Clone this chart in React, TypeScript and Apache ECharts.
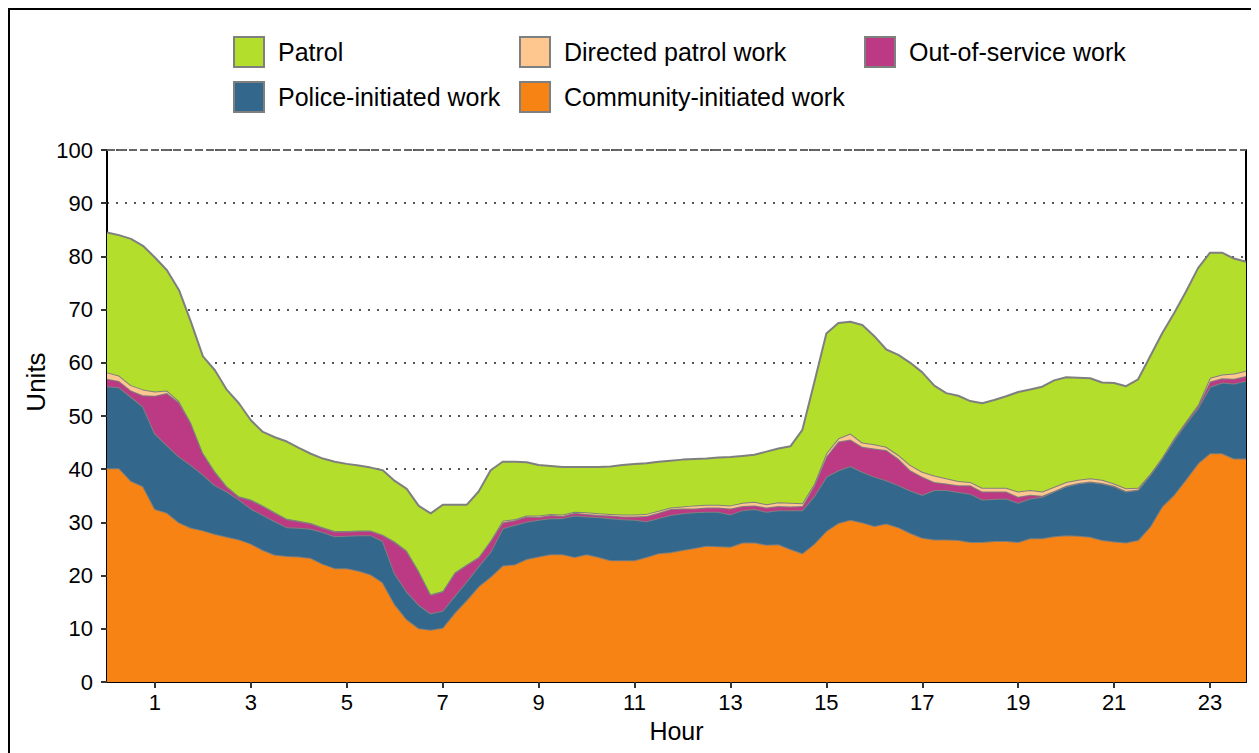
import React, { useEffect, useRef } from "react";
import * as echarts from "echarts";

// Hour of day, every 15 minutes (0 .. 23.75)
const hours: number[] = Array.from({ length: 96 }, (_, i) => i / 4);

const seriesNames = [
  "Community-initiated work",
  "Police-initiated work",
  "Out-of-service work",
  "Directed patrol work",
  "Patrol",
];

const community: number[] = [
  40.2, 40.2, 37.8, 36.8, 32.5, 31.8, 30.0, 29.0, 28.5, 27.8, 27.3, 26.8, 26.0, 24.8, 23.9, 23.7,
  23.6, 23.3, 22.2, 21.4, 21.4, 20.9, 20.2, 18.7, 14.6, 11.8, 10.1, 9.8, 10.2, 13.0, 15.4, 18.0,
  19.8, 21.9, 22.1, 23.1, 23.6, 24.0, 24.0, 23.5, 24.0, 23.5, 22.9, 22.9, 22.9, 23.5, 24.2, 24.4,
  24.8, 25.2, 25.6, 25.5, 25.4, 26.2, 26.2, 25.8, 25.9, 25.0, 24.2, 26.0, 28.4, 29.9, 30.5, 30.0,
  29.3, 29.8, 29.1, 28.0, 27.1, 26.8, 26.8, 26.7, 26.3, 26.3, 26.5, 26.5, 26.3, 27.0, 27.0, 27.4,
  27.6, 27.5, 27.3, 26.7, 26.4, 26.2, 26.7, 29.2, 33.0, 35.2, 38.1, 41.1, 43.0, 43.0, 42.0, 42.0,
];

const police: number[] = [
  15.4, 15.2, 15.8, 15.0, 14.2, 12.7, 12.4, 11.8, 10.5, 9.2, 8.5, 7.5, 6.6, 6.6, 6.3, 5.4,
  5.4, 5.5, 6.0, 6.0, 6.1, 6.7, 7.4, 7.8, 5.8, 5.2, 4.4, 3.1, 3.2, 3.2, 3.5, 3.8,
  4.7, 7.0, 7.4, 7.0, 6.9, 6.8, 6.8, 7.8, 7.1, 7.5, 7.9, 7.7, 7.6, 6.7, 6.6, 7.0,
  6.9, 6.7, 6.4, 6.5, 6.1, 6.1, 6.3, 6.2, 6.4, 7.3, 8.1, 9.0, 10.2, 9.9, 10.1, 9.5,
  9.3, 8.1, 7.9, 8.0, 8.1, 9.3, 9.3, 9.0, 9.1, 8.0, 7.9, 8.0, 7.4, 7.5, 7.8, 8.4,
  9.2, 9.8, 10.3, 10.6, 10.4, 9.6, 9.4, 9.7, 9.0, 10.3, 10.5, 10.4, 12.5, 13.3, 14.1, 14.6,
];

const outOfService: number[] = [
  1.4, 1.2, 1.2, 2.1, 7.1, 9.8, 10.2, 7.9, 4.0, 2.5, 0.9, 0.5, 1.6, 1.7, 1.6, 1.5,
  1.2, 1.0, 0.8, 0.9, 0.8, 0.8, 0.8, 1.1, 5.9, 7.6, 6.3, 3.5, 3.6, 4.3, 3.1, 1.6,
  2.0, 1.1, 0.9, 1.0, 0.5, 0.6, 0.4, 0.5, 0.5, 0.4, 0.5, 0.5, 0.6, 1.0, 1.0, 1.1,
  0.9, 0.7, 0.8, 0.8, 1.1, 0.8, 0.7, 0.8, 0.8, 0.7, 0.8, 2.0, 3.8, 5.4, 5.0, 4.7,
  5.3, 5.7, 5.0, 3.8, 3.4, 1.5, 1.2, 1.3, 1.6, 1.5, 1.4, 1.3, 1.1, 0.7, 0.2, 0.1,
  0.1, 0.1, 0.1, 0.1, 0.1, 0.1, 0.1, 0.1, 0.1, 0.2, 0.3, 0.4, 1.0, 0.8, 0.9, 0.9,
];

const directedPatrol: number[] = [
  1.2, 1.0, 1.0, 1.1, 0.8, 0.5, 0.2, 0.1, 0.1, 0.1, 0.1, 0.1, 0.1, 0.1, 0.1, 0.1,
  0.1, 0.1, 0.1, 0.1, 0.1, 0.1, 0.1, 0.1, 0.1, 0.1, 0.1, 0.1, 0.1, 0.1, 0.1, 0.1,
  0.1, 0.3, 0.2, 0.2, 0.3, 0.2, 0.3, 0.2, 0.3, 0.3, 0.3, 0.4, 0.4, 0.4, 0.4, 0.3,
  0.4, 0.6, 0.5, 0.5, 0.6, 0.6, 0.7, 0.6, 0.7, 0.7, 0.5, 0.3, 0.6, 0.6, 1.1, 0.8,
  0.8, 0.6, 0.7, 1.0, 0.9, 1.2, 1.0, 0.8, 0.6, 0.7, 0.7, 0.7, 1.0, 0.9, 0.8, 0.8,
  0.7, 0.6, 0.6, 0.6, 0.4, 0.5, 0.3, 0.1, 0.1, 0.1, 0.1, 0.2, 0.7, 0.7, 1.0, 1.0,
];

const patrol: number[] = [
  26.3, 26.4, 27.5, 27.0, 25.2, 22.6, 20.9, 18.9, 18.1, 19.0, 18.1, 17.5, 14.9, 13.8, 14.1, 14.5,
  13.7, 13.0, 12.9, 13.0, 12.6, 12.2, 11.8, 12.1, 11.4, 11.6, 12.2, 15.2, 16.2, 12.7, 11.2, 12.3,
  13.2, 11.1, 10.8, 10.0, 9.5, 9.0, 8.9, 8.4, 8.5, 8.7, 8.9, 9.3, 9.5, 9.5, 9.2, 8.8,
  8.8, 8.7, 8.7, 8.9, 9.1, 8.8, 8.8, 9.9, 10.1, 10.6, 13.8, 19.1, 22.5, 21.7, 21.0, 22.1,
  20.3, 18.3, 18.8, 19.2, 18.7, 16.9, 16.0, 16.0, 15.2, 15.9, 16.5, 17.2, 18.7, 18.9, 19.7, 20.0,
  19.7, 19.2, 18.8, 18.3, 18.9, 19.2, 20.4, 22.1, 23.3, 23.5, 24.4, 25.7, 23.5, 22.9, 21.6, 20.5,
];

const seriesValues = [community, police, outOfService, directedPatrol, patrol];
const fillColors = ["#f68313", "#33688c", "#bc3a83", "#fdc78f", "#b3df2c"];

const yTicks = [0, 10, 20, 30, 40, 50, 60, 70, 80, 90, 100];
const xTickLabels = [1, 3, 5, 7, 9, 11, 13, 15, 17, 19, 21, 23];

const FONT = "'Liberation Sans', Arial, sans-serif";
const BORDER = "#7f7f7f";

// legend placement: [name, left, top]
const legendSlots: [string, number, number][] = [
  ["Patrol", 223, 26],
  ["Directed patrol work", 509, 26],
  ["Out-of-service work", 854, 26],
  ["Police-initiated work", 223, 71],
  ["Community-initiated work", 509, 71],
];

export default function App() {
  const ref = useRef<HTMLDivElement>(null);
  useEffect(() => {
    if (!ref.current) return;
    const chart = echarts.init(ref.current, undefined, { renderer: "svg" });
    const cats = hours.map((h) => String(h));
    const showIdx = (i: number) => xTickLabels.includes(hours[i]);
    chart.setOption({
      animation: false,
      textStyle: { fontFamily: FONT },
      legend: legendSlots.map(([name, left, top]) => ({
        data: [name],
        left,
        top,
        padding: 0,
        icon: "rect",
        itemWidth: 30,
        itemHeight: 30,
        itemStyle: { borderColor: BORDER, borderWidth: 2 },
        textStyle: { fontSize: 25, color: "#000", fontFamily: FONT, padding: [0, 0, 0, 9] },
        selectedMode: false,
      })),
      graphic: [
        {
          type: "text",
          x: 26,
          y: 372,
          rotation: Math.PI / 2,
          style: {
            text: "Units",
            fontSize: 26,
            fontFamily: FONT,
            fill: "#000",
            align: "center",
            verticalAlign: "middle",
          },
        },
      ],
      grid: { left: 97, right: 10, top: 140, bottom: 71 },
      xAxis: {
        type: "category",
        data: cats,
        boundaryGap: false,
        name: "Hour",
        nameLocation: "middle",
        nameGap: 36,
        nameTextStyle: { fontSize: 25, color: "#000", fontFamily: FONT },
        axisLine: { show: true, lineStyle: { color: "#000", width: 2 } },
        axisTick: { show: true, alignWithLabel: true, interval: (i: number) => showIdx(i), length: 6, lineStyle: { color: "#333", width: 2 } },
        axisLabel: {
          interval: (i: number) => showIdx(i),
          formatter: (v: string) => String(Number(v)),
          fontSize: 22,
          color: "#000",
          margin: 9,
          fontFamily: FONT,
        },
        splitLine: { show: false },
      },
      yAxis: [
        {
          type: "value",
          min: yTicks[0],
          max: yTicks[yTicks.length - 1],
          interval: 10,
          axisLine: { show: true, lineStyle: { color: "#000", width: 2 } },
          axisTick: { show: true, length: 6, lineStyle: { color: "#333", width: 2 } },
          axisLabel: { fontSize: 22, color: "#000", margin: 14, fontFamily: FONT },
          splitLine: { show: true, lineStyle: { color: "#555", type: [2, 7], width: 2 } },
        },
        {
          type: "value",
          position: "right",
          min: 0,
          max: 100,
          interval: 10,
          axisLine: { show: true, lineStyle: { color: "#000", width: 2 } },
          axisTick: { show: false },
          axisLabel: { show: false },
          splitLine: { show: false },
        },
      ],
      series: seriesNames.map((name, k) => ({
        name,
        type: "line",
        stack: "total",
        data: seriesValues[k],
        symbol: "none",
        smooth: false,
        color: fillColors[k],
        itemStyle: { color: fillColors[k] },
        lineStyle: { color: BORDER, width: 2 },
        areaStyle: { color: fillColors[k], opacity: 1 },
        z: 2 + k,
        markLine:
          k === 0
            ? {
                silent: true,
                symbol: "none",
                label: { show: false },
                lineStyle: { color: "#666", type: [8, 3], width: 2 },
                data: [{ yAxis: 100 }],
              }
            : undefined,
      })),
    });
    return () => chart.dispose();
  }, []);
  return (
    <div style={{ border: "2px solid #000", width: 1246, height: 760, boxSizing: "content-box" }}>
      <div ref={ref} style={{ width: 1246, height: 743 }} />
    </div>
  );
}
